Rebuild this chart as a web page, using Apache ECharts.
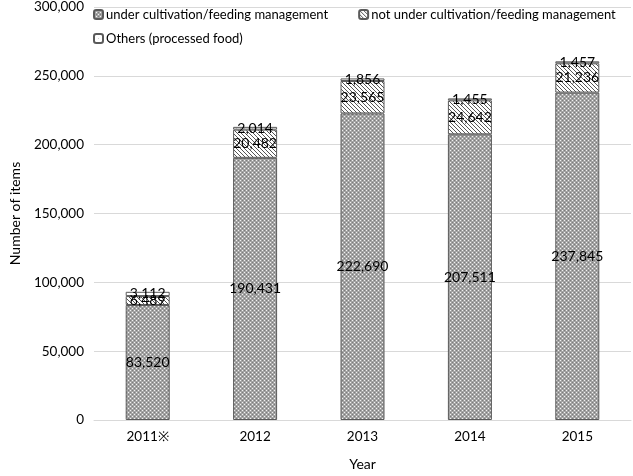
<!DOCTYPE html>
<html><head><meta charset="utf-8">
<script src="https://cdn.jsdelivr.net/npm/echarts@6/dist/echarts.min.js"></script>
<style>html,body{margin:0;padding:0;background:#fff}#c{width:633px;height:476px}</style>
</head><body><div id="c"></div>
<script>
var categories = ['2011※', '2012', '2013', '2014', '2015'];
var seriesNames = ['under cultivation/feeding management', 'not under cultivation/feeding management', 'Others (processed food)'];
var cultivated = [83520, 190431, 222690, 207511, 237845];
var notCultivated = [6489, 20482, 23565, 24642, 21236];
var others = [3112, 2014, 1856, 1455, 1457];
var yTicks = [0, 50000, 100000, 150000, 200000, 250000, 300000];

function makePattern(size, draw) {
  var c = document.createElement('canvas');
  c.width = size; c.height = size;
  var ctx = c.getContext('2d');
  draw(ctx);
  return { image: c, repeat: 'repeat' };
}
var pat1 = makePattern(4, function (ctx) {
  ctx.fillStyle = '#a4a4a4'; ctx.fillRect(0, 0, 4, 4);
  ctx.fillStyle = '#f2f2f2'; ctx.fillRect(0, 0, 1, 1); ctx.fillRect(2, 2, 1, 1);
  ctx.fillStyle = '#7c7c7c'; ctx.fillRect(2, 0, 1, 1); ctx.fillRect(0, 2, 1, 1);
});
var pat2 = makePattern(4, function (ctx) {
  ctx.fillStyle = '#ffffff'; ctx.fillRect(0, 0, 4, 4);
  ctx.fillStyle = '#555555';
  for (var i = 0; i < 4; i++) ctx.fillRect(i, i, 1, 1);
});
var pat3 = makePattern(4, function (ctx) {
  ctx.fillStyle = '#ffffff'; ctx.fillRect(0, 0, 4, 4);
  ctx.fillStyle = '#d0d0d0'; ctx.fillRect(0, 0, 1, 1);
});

function fmt(v) { return Number(v).toLocaleString('en-US'); }
var FONT = 'Lato';

function mk(name, data, pat) {
  return {
    name: name, type: 'bar', stack: 'total', data: data, barWidth: 44,
    itemStyle: { color: pat, borderColor: '#5a5a5a', borderWidth: 1 },
    label: { show: true, position: 'inside', color: '#000', fontFamily: FONT, fontSize: 14,
      formatter: function (p) { return fmt(p.value); } },
    emphasis: { disabled: true }
  };
}

var chart = echarts.init(document.getElementById('c'), null, { renderer: 'canvas' });
chart.setOption({
  animation: false,
  backgroundColor: '#fff',
  textStyle: { fontFamily: FONT },
  legend: [
    { data: [seriesNames[0], seriesNames[1]], left: 88, top: 3, width: 540, itemWidth: 9, itemHeight: 9, itemGap: 30,
      textStyle: { fontFamily: FONT, fontSize: 13, color: '#000', padding: [0, 0, 0, -2] } },
    { data: [seriesNames[2]], left: 88, top: 27, itemWidth: 9, itemHeight: 9,
      textStyle: { fontFamily: FONT, fontSize: 13, color: '#000', padding: [0, 0, 0, -2] } }
  ],
  grid: { left: 87, right: 2, top: 7, bottom: 49, containLabel: false },
  xAxis: {
    type: 'category', data: categories,
    name: 'Year', nameLocation: 'middle', nameGap: 37,
    nameTextStyle: { fontFamily: FONT, fontSize: 14, color: '#000' },
    axisLine: { show: true, lineStyle: { color: '#d9d9d9' } },
    axisTick: { show: false },
    axisLabel: { fontFamily: FONT, fontSize: 13.5, color: '#000', margin: 10 }
  },
  yAxis: {
    type: 'value', min: yTicks[0], max: yTicks[yTicks.length - 1], interval: 50000,
    name: 'Number of items', nameLocation: 'middle', nameGap: 72, nameRotate: 90,
    nameTextStyle: { fontFamily: FONT, fontSize: 14, color: '#000' },
    axisLine: { show: false }, axisTick: { show: false },
    axisLabel: { fontFamily: FONT, fontSize: 13.5, color: '#000', margin: 10, formatter: fmt },
    splitLine: { lineStyle: { color: '#d9d9d9' } }
  },
  series: [
    mk(seriesNames[0], cultivated, pat1),
    mk(seriesNames[1], notCultivated, pat2),
    mk(seriesNames[2], others, pat3)
  ]
});
</script></body></html>
